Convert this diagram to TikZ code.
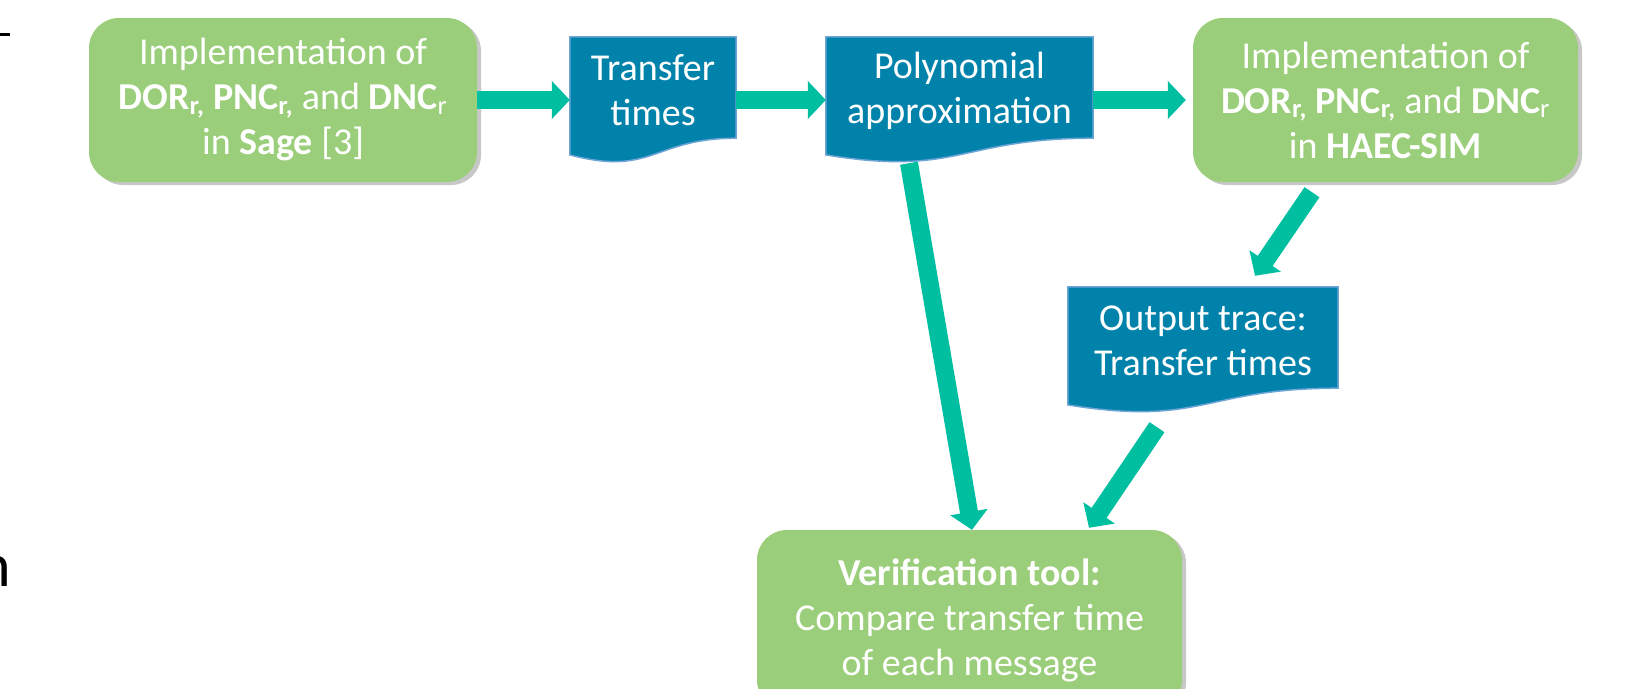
\documentclass[tikz,border=0pt]{standalone}
\usepackage{fontspec}
\setmainfont{Carlito}
\usetikzlibrary{arrows.meta,calc,backgrounds,shadows}
\definecolor{boxgreen}{RGB}{155,206,122}
\definecolor{docblue}{RGB}{0,130,171}
\definecolor{docedge}{RGB}{110,165,215}
\definecolor{arrowteal}{RGB}{0,190,160}
\tikzset{
  greenbox/.style={rectangle, rounded corners=30pt, fill=boxgreen, text=white,
    align=center, inner sep=0pt, font=\fontsize{38}{45}\selectfont,
    drop shadow={shadow xshift=4pt, shadow yshift=-3pt, opacity=0.22, fill=black}},
  docbox/.style={rectangle, inner sep=0pt, text=white, align=center,
    font=\fontsize{38}{45}\selectfont},
  docpaint/.style={fill=docblue, draw=docedge, line width=1.5pt},
  flowarrow/.style={draw=arrowteal, line width=18pt, -{Triangle[width=37pt,length=18pt]}},
}
% document shape: the node spans from 6pt below the top edge to the flat right bottom
\newcommand\docshape[1]{%
  \path let \p1=([yshift=6pt]#1.north west), \p2=(#1.south east), \n1={\x2-\x1}, \n2={\y1-\y2} in
    [docpaint] (\p1) -- (\x2,\y1) -- (\x2,\y2)
    .. controls (\x1+0.5*\n1,\y2) and (\x1+0.5*\n1,\y1-1.381*\n2) .. (\x1,\y1-1.1646*\n2) -- cycle;}
\begin{document}
\begin{tikzpicture}[x=1pt,y=-1pt]
\useasboundingbox (0,0) rectangle (1645,688);
\clip (0,0) rectangle (1645,688);
% fragments at left edge
\draw[line width=3pt] (0,34) -- (10,34);
\node[anchor=south east, inner sep=0pt, font=\fontsize{62}{62}\selectfont] (frag) at (11,587) {n};
% nodes
\node[greenbox, minimum width=388pt, minimum height=164pt] (b1) at (283,100)
  {Implementation of\\\textbf{DOR\textsubscript{r,}} \textbf{PNC\textsubscript{r,}} and \textbf{DNC}\textsubscript{r}\\in \textbf{Sage} [3]};
\node[docbox, minimum width=166pt, minimum height=95pt] (tt) at (653,90.5) {Transfer\\times};
\node[docbox, minimum width=267pt, minimum height=95pt] (poly) at (959.5,90.5) {Polynomial\\approximation};
\node[greenbox, minimum width=385pt, minimum height=164pt] (b2) at (1385.5,100)
  {Implementation of\\\textbf{DOR\textsubscript{r,}} \textbf{PNC\textsubscript{r,}} and \textbf{DNC}\textsubscript{r}\\in \textbf{HAEC-SIM}};
\node[docbox, minimum width=270pt, minimum height=95pt] (out) at (1203,340.5) {Output trace:\\Transfer times};
\node[greenbox, minimum width=425pt, minimum height=180pt] (verif) at (969.5,620)
  {\textbf{Verification tool:}\\Compare transfer time\\of each message};
\begin{scope}[on background layer]
  \docshape{tt}
  \docshape{poly}
  \docshape{out}
\end{scope}
% connectors
\draw[flowarrow] (b1.east) -- (tt.west |- b1.east);
\draw[flowarrow] (tt.east |- b1.east) -- (poly.west |- b1.east);
\draw[flowarrow] (poly.east |- b1.east) -- ([xshift=-7pt]b2.west);
\draw[flowarrow] ($(poly.south)+(-50.5,25)$) -- ($(verif.north)+(2.5,0)$);
\draw[flowarrow] ($(b2.south)+(-73.5,10)$) -- ($(out.north)+(52,-17)$);
\draw[flowarrow] ($(out.south)+(-46,39)$) -- ($(verif.north)+(119.5,-2)$);
\end{tikzpicture}
\end{document}
